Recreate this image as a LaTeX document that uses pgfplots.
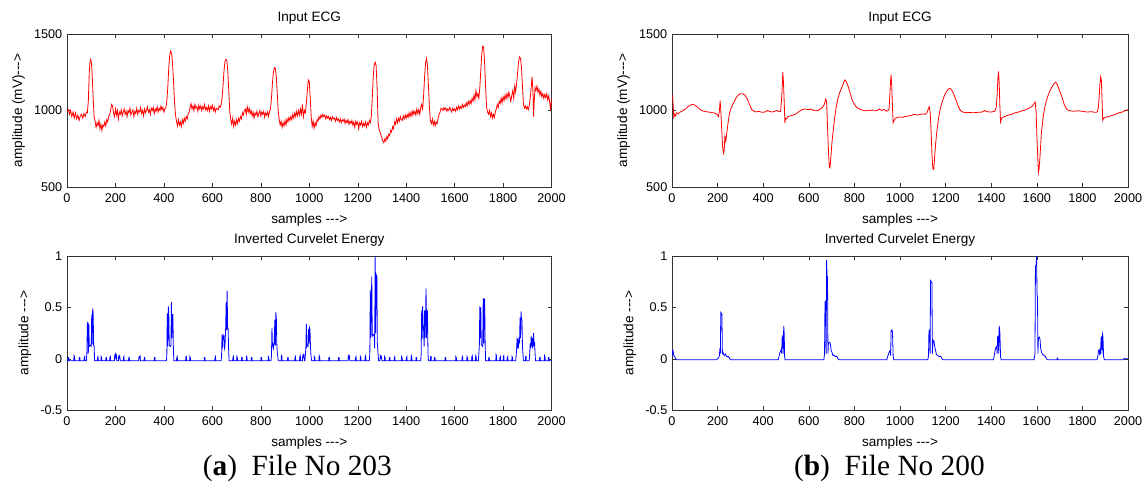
\documentclass[border=0pt]{standalone}
\usepackage{fontspec}
\setmainfont{Liberation Sans}
\newfontfamily\capfont{Liberation Serif}
\usepackage{pgfplots}
\pgfplotsset{compat=1.18}

% MATLAB-like panel style
\pgfplotsset{
  mat/.style={
    scale only axis,
    xmin=0, xmax=2000,
    xtick={0,200,...,2000},
    tick align=inside,
    major tick length=3pt,
    axis line style={black!80, line width=0.5pt},
    tick style={black!80},
    ticklabel style={font=\fontsize{9.5}{10}\selectfont},
    xticklabel style={yshift=-1.5pt},
    label style={font=\fontsize{10.2}{11}\selectfont},
    xlabel style={yshift=-1pt},
    title style={font=\fontsize{10.2}{11}\selectfont, yshift=-2pt},
    /pgf/number format/1000 sep={},
    /pgf/number format/assume math mode=true,
    xlabel={samples -{}-{}->},
  },
  ecg/.style={mat, ymin=500, ymax=1500, ytick={500,1000,1500},
    title={Input ECG}, ylabel={amplitude (mV)-{}-{}->}},
  nrg/.style={mat, ymin=-0.5, ymax=1, ytick={-0.5,0,0.5,1},
    title={Inverted Curvelet Energy}, ylabel={amplitude -{}-{}->}},
}

\begin{document}
\begin{tikzpicture}
\path[use as bounding box] (0,0) rectangle (858.75pt,-366pt);

% ---------- (a) File No 203 : ECG ----------
\begin{axis}[ecg, at={(50.25pt,-140.25pt)}, anchor=south west,
  width=363.4pt, height=114.75pt]
\addplot[red, line width=0.6pt] coordinates {
(0,995)(6,1005)(10,975)(15,1000)(20,960)(25,990)(30,950)(35,985)(40,945)(45,970)
(50,935)(55,965)(60,975)(65,950)(70,980)(75,960)(80,990)(84,985)(88,1060)(92,1250)
(95,1320)(98,1335)(101,1310)(104,1230)(108,1080)(112,960)(116,930)(120,890)(124,920)(128,900)
(132,935)(136,880)(140,910)(144,870)(148,905)(152,895)(156,925)(160,900)(164,940)(168,925)
(172,960)(176,975)(180,1000)(184,1040)(188,1030)(192,985)(196,960)(200,1010)(204,970)(208,1000)
(212,945)(216,990)(220,975)(224,1005)(228,965)(232,990)(236,1010)(240,975)(244,995)(248,960)
(252,1000)(256,985)(260,1015)(264,970)(268,990)(272,1005)(276,960)(280,995)(284,980)(288,1015)
(292,975)(296,1000)(300,990)(304,1020)(308,980)(312,1000)(316,965)(320,1010)(324,985)(328,1000)
(332,1025)(336,990)(340,1005)(344,975)(348,1015)(352,1000)(356,1020)(360,980)(364,1010)(368,995)
(372,1025)(376,990)(380,1015)(384,1000)(388,1030)(392,1005)(396,1020)(400,990)(404,1010)(408,1020)
(412,1060)(416,1150)(420,1280)(424,1360)(428,1390)(432,1370)(436,1300)(440,1180)(444,1050)(448,970)
(452,930)(456,900)(460,940)(464,905)(468,925)(472,895)(476,940)(480,915)(484,950)(488,930)
(492,960)(496,945)(500,975)(504,990)(508,1020)(512,1045)(516,1010)(520,1030)(524,1000)(528,1040)
(532,1015)(536,1025)(540,995)(544,1035)(548,1010)(552,1030)(556,1000)(560,1025)(564,1010)(568,1040)
(572,1005)(576,1020)(580,1000)(584,1030)(588,995)(592,1025)(596,1010)(600,1035)(604,1000)(608,1020)
(612,990)(616,1015)(620,1010)(624,1005)(628,1030)(632,1020)(636,1040)(640,1080)(644,1160)(648,1260)
(652,1320)(656,1335)(660,1325)(664,1250)(668,1120)(672,990)(676,940)(680,910)(684,950)(688,895)
(692,930)(696,905)(700,940)(704,915)(708,950)(712,930)(716,960)(720,945)(724,985)(728,970)
(732,1000)(736,1010)(740,975)(744,1025)(748,990)(752,1015)(756,980)(760,1000)(764,965)(768,990)
(772,950)(776,985)(780,970)(784,995)(788,960)(792,980)(796,1000)(800,965)(804,990)(808,975)
(812,995)(816,955)(820,985)(824,970)(828,990)(832,960)(836,995)(840,1010)(844,1080)(848,1180)
(852,1250)(856,1280)(860,1275)(864,1220)(868,1110)(872,990)(876,940)(880,905)(884,930)(888,890)
(892,920)(896,900)(900,935)(904,905)(908,945)(912,925)(916,955)(920,935)(924,960)(928,940)
(932,975)(936,950)(940,985)(944,960)(948,995)(952,965)(956,1000)(960,970)(964,1010)(968,975)
(972,1040)(976,960)(980,1000)(984,985)(988,1050)(992,1130)(996,1200)(1000,1190)(1004,1080)(1008,960)
(1012,895)(1016,930)(1020,885)(1024,920)(1028,900)(1032,940)(1036,930)(1040,960)(1044,945)(1048,970)
(1052,955)(1056,975)(1060,960)(1064,970)(1068,945)(1072,965)(1076,950)(1080,960)(1084,940)(1088,955)
(1092,935)(1096,960)(1100,945)(1104,950)(1108,930)(1112,955)(1116,935)(1120,945)(1124,925)(1128,945)
(1132,920)(1136,940)(1140,930)(1144,945)(1148,915)(1152,935)(1156,920)(1160,940)(1164,910)(1168,930)
(1172,915)(1176,935)(1180,905)(1184,925)(1188,890)(1192,930)(1196,910)(1200,925)(1204,880)(1208,920)
(1212,905)(1216,930)(1220,895)(1224,915)(1228,900)(1232,925)(1236,890)(1240,920)(1244,905)(1248,935)
(1252,920)(1256,960)(1260,1080)(1264,1220)(1268,1300)(1272,1315)(1276,1290)(1280,1150)(1284,920)(1288,880)
(1292,860)(1296,840)(1300,820)(1304,800)(1308,790)(1312,815)(1316,800)(1320,830)(1324,815)(1328,845)
(1332,835)(1336,870)(1340,860)(1344,895)(1348,880)(1352,925)(1356,910)(1360,945)(1364,920)(1368,950)
(1372,930)(1376,960)(1380,940)(1384,935)(1388,965)(1392,945)(1396,970)(1400,950)(1404,975)(1408,955)
(1412,985)(1416,960)(1420,990)(1424,965)(1428,1000)(1432,975)(1436,995)(1440,970)(1444,1010)(1448,980)
(1452,1005)(1456,975)(1460,1020)(1464,1040)(1468,1010)(1472,1100)(1476,1220)(1480,1310)(1484,1340)(1488,1290)
(1492,1160)(1496,1020)(1500,930)(1504,915)(1508,945)(1512,905)(1516,930)(1520,900)(1524,925)(1528,915)
(1532,950)(1536,975)(1540,990)(1544,1015)(1548,1010)(1552,1000)(1556,1020)(1560,1005)(1564,1015)(1568,995)
(1572,1010)(1576,1000)(1580,1020)(1584,1005)(1588,990)(1592,1015)(1596,1000)(1600,1010)(1604,995)(1608,1020)
(1612,1005)(1616,1030)(1620,1010)(1624,1025)(1628,1015)(1632,1040)(1636,1020)(1640,1035)(1644,1025)(1648,1050)
(1652,1030)(1656,1060)(1660,1040)(1664,1065)(1668,1045)(1672,1080)(1676,1060)(1680,1100)(1684,1070)(1688,1130)
(1692,1090)(1696,1110)(1700,1080)(1704,1150)(1708,1260)(1712,1370)(1716,1420)(1720,1415)(1724,1300)(1728,1150)
(1732,1020)(1736,990)(1740,975)(1744,1000)(1748,960)(1752,985)(1756,950)(1760,975)(1764,955)(1768,990)
(1772,1010)(1776,1040)(1780,1020)(1784,1060)(1788,1045)(1792,1080)(1796,1050)(1800,1090)(1804,1065)(1808,1100)
(1812,1075)(1816,1110)(1820,1085)(1824,1120)(1828,1090)(1832,1060)(1836,1100)(1840,1130)(1844,1080)(1848,1160)
(1852,1120)(1856,1180)(1860,1250)(1864,1320)(1868,1350)(1872,1340)(1876,1280)(1880,1160)(1884,1040)(1888,1015)
(1892,1030)(1896,1010)(1900,1025)(1904,1005)(1908,1030)(1912,1080)(1916,1150)(1920,1220)(1924,1100)(1926,960)
(1928,1050)(1932,1150)(1936,1130)(1940,1160)(1944,1120)(1948,1140)(1952,1100)(1956,1125)(1960,1090)(1964,1110)
(1968,1080)(1972,1105)(1976,1085)(1980,1110)(1984,1070)(1988,1095)(1992,1060)(1996,1000)(2000,1080)
};
\end{axis}

% ---------- (a) File No 203 : energy ----------
\begin{axis}[nrg, at={(50.25pt,-307.5pt)}, anchor=south west,
  width=363.4pt, height=115.5pt]
\addplot[blue, line width=0.6pt] coordinates {
(0,-0.02)(4,-0.02)(5,0.01)(7,0.01)(8,-0.02)(28,-0.02)(29,0.03)(31,0.02)(32,-0.02)
(50,-0.02)(51,0.01)(53,0.01)(54,-0.02)(70,-0.02)(71,0.01)(73,0.02)(74,-0.02)
(80,-0.02)(82,0.05)(84,0.33)(86,0.36)(88,0.05)(90,0.34)(92,0.12)(96,0.13)(100,0.12)(102,0.43)
(104,0.14)(106,0.49)(108,0.44)(110,0.13)(112,0.12)(114,-0.02)
(125,-0.02)(126,0.01)(128,0.02)(129,-0.02)(140,-0.02)(141,0.02)(143,0.01)(144,-0.02)
(160,-0.02)(161,0.01)(163,0.01)(164,-0.02)(176,-0.02)(177,0.01)(179,0.02)(180,-0.02)
(196,-0.02)(197,0.03)(199,0.02)(200,0.04)(202,0.01)(204,0.03)(206,-0.02)
(212,-0.02)(213,0.02)(215,0.03)(216,0.01)(218,0.02)(220,-0.02)(232,-0.02)(233,0.01)(235,0.02)(236,-0.02)
(254,-0.02)(255,0.01)(257,0.01)(258,-0.02)(296,-0.02)(297,0.02)(299,0.02)(300,0.01)(302,0.02)(303,-0.02)
(318,-0.02)(319,0.01)(321,0.01)(322,-0.02)(360,-0.02)(361,0.01)(363,0.01)(364,-0.02)
(410,-0.02)(412,0.02)(414,0.44)(416,0.12)(418,0.51)(420,0.48)(422,0.13)(427,0.12)(429,0.13)(431,0.55)
(433,0.2)(435,0.43)(437,0.43)(439,0.12)(441,-0.02)
(452,-0.02)(453,0.01)(455,0.02)(456,-0.02)(490,-0.02)(491,0.02)(493,0.02)(494,-0.02)
(506,-0.02)(507,0.02)(509,0.01)(510,-0.02)(566,-0.02)(567,0.01)(569,0.01)(570,-0.02)
(610,-0.02)(611,0.01)(613,0.02)(614,-0.02)
(636,-0.02)(638,0.02)(640,0.23)(642,0.1)(644,0.24)(646,0.2)(648,0.21)(650,0.1)(652,0.12)(655,0.3)
(657,0.55)(659,0.28)(661,0.66)(663,0.3)(665,0.29)(667,0.1)(669,-0.02)
(684,-0.02)(685,0.01)(687,0.02)(688,-0.02)(700,-0.02)(701,0.02)(703,0.01)(704,-0.02)
(720,-0.02)(721,0.01)(723,0.01)(724,-0.02)(740,-0.02)(741,0.02)(743,0.01)(744,-0.02)
(760,-0.02)(761,0.01)(763,0.01)(764,-0.02)(800,-0.02)(801,0.01)(803,0.01)(804,-0.02)
(830,-0.02)(831,0.02)(833,0.01)(834,-0.02)
(842,-0.02)(844,0.03)(846,0.3)(848,0.13)(850,0.14)(852,0.1)(855,0.15)(858,0.38)(860,0.13)(862,0.45)
(864,0.4)(866,0.15)(868,0.05)(870,0.03)(872,-0.02)
(884,-0.02)(885,0.03)(887,0.02)(888,-0.02)(910,-0.02)(911,0.01)(913,0.01)(914,-0.02)
(940,-0.02)(941,0.01)(943,0.02)(944,-0.02)(960,-0.02)(961,0.02)(963,0.03)(964,-0.02)
(972,-0.02)(973,0.03)(975,0.04)(976,0.02)(978,0.03)(980,-0.02)
(982,-0.02)(984,0.04)(986,0.1)(988,0.34)(990,0.12)(992,0.13)(995,0.12)(997,0.29)(999,0.15)(1001,0.3)
(1003,0.28)(1005,0.12)(1007,0.03)(1010,-0.02)
(1020,-0.02)(1021,0.02)(1023,0.01)(1024,-0.02)(1040,-0.02)(1041,0.03)(1043,0.02)(1044,-0.02)
(1080,-0.02)(1081,0.01)(1083,0.01)(1084,-0.02)(1120,-0.02)(1121,0.01)(1123,0.01)(1124,-0.02)
(1160,-0.02)(1161,0.02)(1163,0.03)(1164,0.01)(1166,0.02)(1167,-0.02)(1190,-0.02)(1191,0.01)(1193,0.02)(1194,-0.02)
(1210,-0.02)(1211,0.02)(1213,0.01)(1214,-0.02)(1230,-0.02)(1231,0.02)(1233,0.03)(1234,-0.02)
(1248,-0.02)(1250,0.05)(1252,0.67)(1254,0.2)(1258,0.8)(1260,0.22)(1264,0.23)(1268,0.24)(1270,0.1)(1272,1.0)
(1274,0.25)(1276,0.82)(1279,0.8)(1281,0.15)(1284,0.05)(1286,-0.02)
(1292,-0.02)(1293,0.03)(1295,0.02)(1296,0.01)(1298,0.02)(1300,-0.02)(1310,-0.02)(1311,0.02)(1313,0.01)(1314,-0.02)
(1330,-0.02)(1331,0.01)(1333,0.01)(1334,-0.02)(1350,-0.02)(1351,0.01)(1353,0.02)(1354,-0.02)
(1380,-0.02)(1381,0.02)(1383,0.01)(1384,-0.02)(1400,-0.02)(1401,0.01)(1403,0.02)(1404,-0.02)
(1420,-0.02)(1421,0.03)(1423,0.02)(1424,-0.02)(1440,-0.02)(1441,0.01)(1443,0.01)(1444,-0.02)
(1460,-0.02)(1462,0.05)(1464,0.47)(1466,0.2)(1468,0.51)(1470,0.3)(1472,0.28)(1474,0.12)(1476,0.47)(1478,0.2)
(1480,0.4)(1482,0.685)(1484,0.2)(1486,0.47)(1488,0.46)(1490,0.05)(1492,-0.02)
(1500,-0.02)(1501,0.02)(1503,0.02)(1504,-0.02)(1516,-0.02)(1517,0.01)(1519,0.01)(1520,-0.02)
(1560,-0.02)(1561,0.01)(1563,0.01)(1564,-0.02)(1604,-0.02)(1605,0.02)(1607,0.01)(1608,-0.02)
(1630,-0.02)(1631,0.01)(1633,0.02)(1634,-0.02)(1650,-0.02)(1651,0.02)(1653,0.01)(1654,-0.02)
(1670,-0.02)(1671,0.02)(1673,0.03)(1674,-0.02)(1686,-0.02)(1687,0.03)(1689,0.02)(1690,-0.02)
(1698,-0.02)(1700,0.05)(1702,0.13)(1704,0.51)(1706,0.2)(1708,0.5)(1710,0.13)(1714,0.13)(1716,0.12)(1718,0.59)
(1720,0.15)(1722,0.58)(1724,0.58)(1726,0.13)(1728,-0.02)
(1740,-0.02)(1741,0.01)(1743,0.01)(1744,-0.02)(1770,-0.02)(1771,0.04)(1773,0.03)(1774,-0.02)
(1786,-0.02)(1787,0.01)(1789,0.02)(1790,-0.02)(1800,-0.02)(1801,0.02)(1803,0.03)(1804,-0.02)
(1816,-0.02)(1817,0.01)(1819,0.02)(1820,-0.02)(1836,-0.02)(1837,0.02)(1839,0.01)(1840,-0.02)
(1852,-0.02)(1854,0.03)(1856,0.1)(1858,0.2)(1860,0.1)(1862,0.16)(1864,0.13)(1866,0.21)(1868,0.15)(1870,0.4)
(1872,0.2)(1874,0.46)(1876,0.39)(1878,0.38)(1880,0.12)(1882,0.05)(1884,-0.02)
(1892,-0.02)(1893,0.02)(1895,0.02)(1896,-0.02)
(1908,-0.02)(1910,0.05)(1912,0.15)(1914,0.1)(1916,0.22)(1918,0.12)(1920,0.2)(1922,0.1)(1924,0.15)(1926,0.25)
(1928,0.12)(1930,0.16)(1932,0.05)(1934,-0.02)
(1950,-0.02)(1951,0.01)(1953,0.01)(1954,-0.02)(1970,-0.02)(1971,0.03)(1973,0.02)(1974,-0.02)
(1986,-0.02)(1987,0.01)(1989,0.01)(1990,-0.02)(2000,-0.02)
};
\end{axis}

% ---------- (b) File No 200 : ECG ----------
\begin{axis}[ecg, at={(504pt,-140.25pt)}, anchor=south west,
  width=342pt, height=114.75pt]
\addplot[red, line width=0.6pt] coordinates {
(0,1100)(3,1090)(6,1010)(8,955)(12,975)(16,965)(20,985)(28,980)(36,990)(44,995)
(52,1005)(60,1010)(70,1025)(80,1035)(90,1040)(100,1035)(110,1025)(120,1010)(130,1000)(140,995)
(150,992)(160,990)(170,988)(180,985)(190,982)(198,975)(204,960)(208,1000)(211,1065)(214,1000)
(218,880)(222,760)(226,720)(229,740)(232,830)(236,800)(240,850)(246,920)(252,980)(260,1020)
(270,1050)(280,1080)(290,1100)(300,1110)(310,1110)(320,1100)(330,1075)(340,1040)(350,1005)(360,995)
(370,990)(380,995)(390,990)(400,988)(410,992)(420,1000)(430,993)(440,990)(450,995)(460,1000)
(470,992)(476,995)(480,1060)(483,1140)(486,1250)(489,1180)(492,1060)(495,920)(498,950)(502,945)
(508,960)(520,965)(530,970)(540,975)(550,985)(560,995)(570,1005)(580,1010)(590,1008)(600,1005)
(610,1010)(620,1000)(630,1002)(640,1000)(650,1010)(660,1020)(668,1040)(674,1075)(678,1060)(682,900)
(686,740)(690,630)(693,625)(697,700)(702,800)(708,880)(714,960)(720,1020)(728,1080)(736,1120)
(745,1150)(752,1180)(758,1200)(764,1190)(772,1160)(780,1120)(790,1070)(800,1040)(810,1020)(820,1010)
(830,1005)(840,1000)(850,998)(860,1002)(870,1000)(880,1003)(890,998)(900,1000)(910,1010)(920,1000)
(930,1008)(940,995)(948,1000)(952,1010)(955,1090)(958,1180)(961,1235)(964,1150)(967,1020)(970,920)
(974,935)(980,950)(990,955)(1000,958)(1010,955)(1020,960)(1030,962)(1040,965)(1050,968)(1060,975)
(1070,972)(1080,970)(1090,975)(1100,978)(1110,975)(1118,985)(1124,1010)(1128,1025)(1132,990)(1136,880)
(1140,720)(1144,620)(1148,615)(1152,700)(1156,780)(1162,870)(1170,960)(1178,1020)(1186,1060)(1195,1100)
(1205,1125)(1212,1140)(1220,1145)(1228,1130)(1236,1105)(1245,1070)(1255,1030)(1265,1000)(1275,990)(1290,985)
(1300,988)(1320,985)(1340,988)(1360,990)(1372,1000)(1380,992)(1400,990)(1415,995)(1422,1020)(1426,1100)
(1429,1200)(1432,1255)(1435,1180)(1438,1030)(1441,925)(1446,950)(1452,955)(1460,962)(1475,970)(1490,975)
(1505,985)(1520,990)(1535,998)(1550,1005)(1565,1015)(1578,1025)(1588,1045)(1593,1055)(1597,990)(1600,850)
(1604,700)(1607,595)(1610,620)(1614,700)(1620,850)(1628,960)(1636,1030)(1645,1080)(1655,1120)(1665,1150)
(1675,1175)(1682,1185)(1690,1170)(1700,1130)(1710,1090)(1720,1040)(1730,1010)(1740,1000)(1760,995)(1780,998)
(1800,995)(1820,990)(1840,992)(1855,988)(1865,990)(1870,1020)(1874,1100)(1877,1180)(1880,1220)(1883,1200)
(1886,1080)(1889,935)(1893,950)(1900,955)(1915,960)(1930,968)(1945,975)(1960,985)(1975,990)(1990,1000)
(2000,1005)
};
\end{axis}

% ---------- (b) File No 200 : energy ----------
\begin{axis}[nrg, at={(504pt,-307.5pt)}, anchor=south west,
  width=342pt, height=115.5pt]
\addplot[blue, line width=0.6pt] coordinates {
(0,0.02)(2,0.07)(4,0.08)(6,0.06)(8,0.03)(12,0.02)(16,0.0)(20,-0.01)(196,-0.01)(200,0.0)
(205,0.01)(208,0.03)(210,0.1)(212,0.05)(214,0.45)(217,0.44)(219,0.43)(221,0.05)(224,0.06)(227,0.04)
(230,0.03)(234,0.045)(240,0.02)(248,0.02)(253,0.0)(256,-0.01)(466,-0.01)(470,0.03)(473,0.06)(476,0.07)
(479,0.09)(481,0.05)(483,0.2)(486,0.22)(488,0.05)(490,0.32)(492,0.25)(494,0.02)(496,-0.01)(666,-0.01)
(669,0.05)(671,0.55)(674,0.56)(676,0.05)(678,0.96)(680,0.8)(682,0.8)(684,0.05)(686,0.15)(690,0.16)
(694,0.15)(698,0.08)(702,0.06)(706,0.03)(710,0.035)(716,0.02)(722,0.025)(728,0.0)(732,-0.01)(942,-0.01)
(946,0.02)(950,0.05)(954,0.07)(957,0.08)(959,0.03)(961,0.27)(964,0.28)(967,0.26)(970,0.02)(973,-0.01)
(1122,-0.01)(1125,0.03)(1127,0.27)(1130,0.28)(1132,0.05)(1134,0.76)(1137,0.75)(1140,0.74)(1142,0.05)(1145,0.18)
(1149,0.17)(1152,0.12)(1156,0.08)(1160,0.04)(1166,0.03)(1172,0.02)(1178,0.025)(1184,0.0)(1188,-0.01)(1410,-0.01)
(1414,0.04)(1418,0.09)(1421,0.11)(1424,0.12)(1426,0.05)(1428,0.21)(1431,0.22)(1433,0.05)(1435,0.32)(1438,0.25)
(1441,0.02)(1444,-0.01)(1588,-0.01)(1592,0.05)(1594,0.9)(1597,0.91)(1599,1.0)(1601,0.63)(1603,0.6)(1605,0.05)
(1607,0.2)(1611,0.21)(1614,0.19)(1617,0.1)(1621,0.06)(1626,0.04)(1632,0.03)(1638,0.02)(1642,0.0)(1646,-0.01)
(1688,-0.01)(1690,0.005)(1694,-0.01)(1864,-0.01)(1868,0.03)(1871,0.08)(1874,0.09)(1876,0.04)(1879,0.05)(1882,0.2)
(1884,0.21)(1886,0.05)(1888,0.24)(1890,0.22)(1893,0.02)(1896,-0.01)(1978,-0.01)(1980,0.0)(2000,0.0)
};
\end{axis}

% sub-figure captions
\node[font=\capfont\fontsize{22}{24}\selectfont] at (223pt,-351pt) {(\textbf{a})\ \ File No 203};
\node[font=\capfont\fontsize{22}{24}\selectfont] at (667pt,-351pt) {(\textbf{b})\ \ File No 200};
\end{tikzpicture}
\end{document}
